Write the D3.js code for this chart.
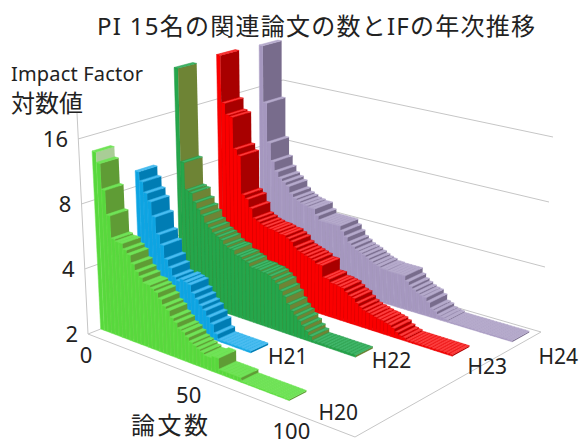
<!DOCTYPE html>
<html>
<head>
<meta charset="utf-8">
<script src="https://d3js.org/d3.v7.min.js"></script>
<style>
  html, body { margin: 0; padding: 0; background: #fff; }
  text { font-family: "Noto Sans", "Noto Sans CJK JP", sans-serif; fill: #222; }
</style>
</head>
<body>
<div id="chart"></div>
<script>
let years = ['H20', 'H21', 'H22', 'H23', 'H24'];
let ifTicks = [2, 4, 8, 16];
let rankTicks = [0, 50, 100];

// impact factor of each bar
let h20 = [13.5, 12.1, 9.2, 7.1, 5.6, 5.5, 5.5, 5.2, 5.0, 4.6, 4.3, 4.1, 3.9, 3.9, 3.8, 3.7, 3.5, 3.3, 3.2, 3.0, 2.9, 2.75, 2.7, 2.6, 2.5, 2.45, 2.4, 2.35, 2.3, 2.3, 2.35, 2.35,
  2.1, 2.1, 2.1, 2.1, 2.1, 2.1, 2.03, 2.03, 2.03, 2.03, 2.03, 2.03, 2.03, 2.03, 2.03, 2.03, 2.03, 2.03, 2.03];
let h21 = [9.5, 8.6, 7.7, 7.1, 6.1, 5.1, 4.6, 4.0, 3.7, 3.4, 3.3, 3.4, 3.35, 3.3, 3.05, 2.9, 2.75, 2.65, 2.5, 2.35, 2.15,
  2.04, 2.04, 2.04, 2.04, 2.04, 2.04, 2.04, 2.04, 2.04];
let h22 = [26, 9.2, 6.8, 6.7, 6.1, 5.7, 5.4, 5.0, 4.8, 4.6, 4.5, 4.4, 4.2, 4.1, 4.1, 3.9, 3.9, 3.8, 3.75, 3.6, 3.6, 3.6, 3.55, 3.55, 3.5, 3.4, 3.3, 3.1, 2.95, 2.75, 2.6, 2.5, 2.4, 2.3, 2.2, 2.12,
  2.04, 2.04, 2.04, 2.04, 2.04, 2.04, 2.04, 2.04, 2.04, 2.04, 2.04, 2.04];
let h23 = [26.5, 15.5, 13.7, 13.5, 9.5, 8.9, 5.8, 5.6, 5.1, 4.6, 4.5, 4.4, 4.35, 4.3, 4.3, 4.26, 4.2, 4.2, 4.1, 4.0, 3.8, 3.7, 3.65, 3.6, 3.55, 3.5, 3.4, 3.4, 3.0, 3.0, 2.9, 2.9, 2.87, 2.85, 2.76, 2.68, 2.65, 2.54, 2.46, 2.41, 2.38, 2.36, 2.33, 2.31, 2.3, 2.27, 2.25, 2.2, 2.13, 2.08, 2.06,
  2.03, 2.03, 2.03, 2.03, 2.03, 2.03, 2.03, 2.03, 2.03, 2.03, 2.03, 2.03, 2.03];
let h24 = [26, 13.5, 8.6, 7.0, 6.3, 5.9, 5.7, 5.5, 5.1, 4.9, 4.8, 4.7, 4.66, 4.6, 4.6, 4.3, 4.1, 4.1, 4.1, 4.1, 4.1, 4.1, 3.9, 3.7, 3.5, 3.4, 3.3, 3.25, 3.2, 3.13, 3.06, 3.0, 2.96, 2.91, 2.91, 2.89, 2.89, 2.89, 2.89, 2.89, 2.74, 2.63, 2.56, 2.5, 2.46, 2.44, 2.34, 2.2, 2.17, 2.1, 2.08, 2.06,
  2.03, 2.03, 2.03, 2.03, 2.03, 2.03, 2.03, 2.03, 2.03, 2.03, 2.03, 2.03, 2.03, 2.03, 2.03, 2.03, 2.03, 2.03];

let seriesValues = [h20, h21, h22, h23, h24];
let frontColors = ['#58d83c', '#0ea4e2', '#25a64b', '#fa0000', '#a597bf'];
let stripeColors = ['#6ee653', '#2ab2ea', '#1f9a44', '#e80000', '#b3a7cb'];
let riserColors = ['#5f9c36', '#047db4', '#6e8436', '#a80000', '#786c8c'];
let topColors = ['#6fe258', '#4bbcf0', '#3fb568', '#fb3c3c', '#b5aacb'];

// where the series names sit relative to the end of their row
let labelNudge = [[29, 19], [17, 11], [16, 11], [15, 18], [26, 22]];

let width = 580, height = 441;

// corners of the floor and of the 16 plane on screen
let floorCorners = {fl: [88, 334], fr: [355, 437], bl: [283, 257], br: [541, 332]};
let topCorners = {fl: [78, 139], fr: [358, 222], bl: [283, 80], br: [553, 137]};

let barX = d3.scaleLinear().domain([0, 72]).range([0, 1]);
let rankX = d3.scaleLinear().domain([0, 130]).range([0, 1]);
let yearZ = d3.scaleBand().domain(years).range([0.065, 0.975]).paddingInner(0.56);
let ifY = d3.scaleLog().base(2).domain([2, 16]).range([0, 1]);

function plane(c, u, z) {
    let front = d3.interpolateArray(c.fl, c.fr)(u);
    let back = d3.interpolateArray(c.bl, c.br)(u);
    return d3.interpolateArray(front, back)(z);
}

function project(u, z, h) {
    return d3.interpolateArray(plane(floorCorners, u, z), plane(topCorners, u, z))(h);
}

let svg = d3.select('#chart')
    .append('svg')
      .attr('width', width)
      .attr('height', height)
      .style('display', 'block');

svg.append('defs').append('filter')
    .attr('id', 'soft')
  .append('feGaussianBlur')
    .attr('stdDeviation', 0.4);

let chart = svg.append('g').attr('filter', 'url(#soft)');
let line = d3.line();

// walls and floor
let grid = chart.append('g')
    .attr('fill', 'none')
    .attr('stroke', '#c6c6c6')
    .attr('stroke-width', 1);

ifTicks.forEach(function(v) {
    grid.append('path').attr('d', line([project(0, 0, ifY(v)), project(0, 1, ifY(v)), project(1, 1, ifY(v))]));
});
grid.append('path').attr('d', line([project(0, 0, 0), project(1, 0, 0), project(1, 1, 0)]));
grid.append('path').attr('d', line([project(0, 0, 0), [project(0, 0, 1)[0] - 1, 113]]));

// back series first, and inside a series from the tall bars to the low ones
let faces = [];
d3.range(years.length - 1, -1, -1).forEach(function(s) {
    let z0 = yearZ(years[s]), z1 = z0 + yearZ.bandwidth();
    seriesValues[s].forEach(function(v, i) {
        let u0 = barX(i), u1 = barX(i + 1), h = ifY(v);
        faces.push({
            pts: [project(u0, z0, 0), project(u1, z0, 0), project(u1, z0, h), project(u0, z0, h)],
            fill: frontColors[s], stroke: stripeColors[s]
        });
        faces.push({
            pts: [project(u1, z0, 0), project(u1, z1, 0), project(u1, z1, h), project(u1, z0, h)],
            fill: (s == 0 && i == 0) ? '#a9cd96' : riserColors[s], stroke: 'none'
        });
        faces.push({
            pts: [project(u0, z0, h), project(u1, z0, h), project(u1, z1, h), project(u0, z1, h)],
            fill: topColors[s], stroke: stripeColors[s]
        });
    });
});

chart.append('g')
    .selectAll('polygon')
    .data(faces)
    .enter()
    .append('polygon')
    .attr('points', function(d) { return d.pts.map(function(p) { return p.join(','); }).join(' '); })
    .attr('fill', function(d) { return d.fill; })
    .attr('stroke', function(d) { return d.stroke; })
    .attr('stroke-width', 0.5);

// value axis labels
svg.append('g')
    .selectAll('text')
    .data(ifTicks)
    .enter()
    .append('text')
    .attr('x', function(d) { return project(0, 0, ifY(d))[0] - 10; })
    .attr('y', function(d) { return project(0, 0, ifY(d))[1] + 8; })
    .attr('text-anchor', 'end')
    .attr('font-size', 22)
    .text(function(d) { return d; });

// rank axis labels, the last one stays inside the picture
svg.append('g')
    .selectAll('text')
    .data(rankTicks)
    .enter()
    .append('text')
    .attr('x', function(d) { return project(rankX(d), 0, 0)[0] - 2; })
    .attr('y', function(d) { return Math.min(project(rankX(d), 0, 0)[1] + 29, 439); })
    .attr('text-anchor', 'middle')
    .attr('font-size', 22)
    .text(function(d) { return d; });

// series labels at the end of each row
svg.append('g')
    .selectAll('text')
    .data(years)
    .enter()
    .append('text')
    .attr('x', function(d, i) { return project(barX(seriesValues[i].length), yearZ(d), 0)[0] + labelNudge[i][0]; })
    .attr('y', function(d, i) { return project(barX(seriesValues[i].length), yearZ(d), 0)[1] + labelNudge[i][1]; })
    .attr('font-size', 21)
    .text(function(d) { return d; });

svg.append('text')
    .attr('x', 97).attr('y', 35)
    .attr('font-size', 24)
    .attr('textLength', 438)
    .text('PI 15名の関連論文の数とIFの年次推移');

svg.append('text')
    .attr('x', 11).attr('y', 81)
    .attr('font-size', 20)
    .attr('textLength', 132)
    .text('Impact Factor');

svg.append('text')
    .attr('x', 11).attr('y', 112)
    .attr('font-size', 24)
    .text('対数値');

svg.append('text')
    .attr('x', 131).attr('y', 434)
    .attr('font-size', 24)
    .attr('textLength', 77)
    .text('論文数');
</script>
</body>
</html>
